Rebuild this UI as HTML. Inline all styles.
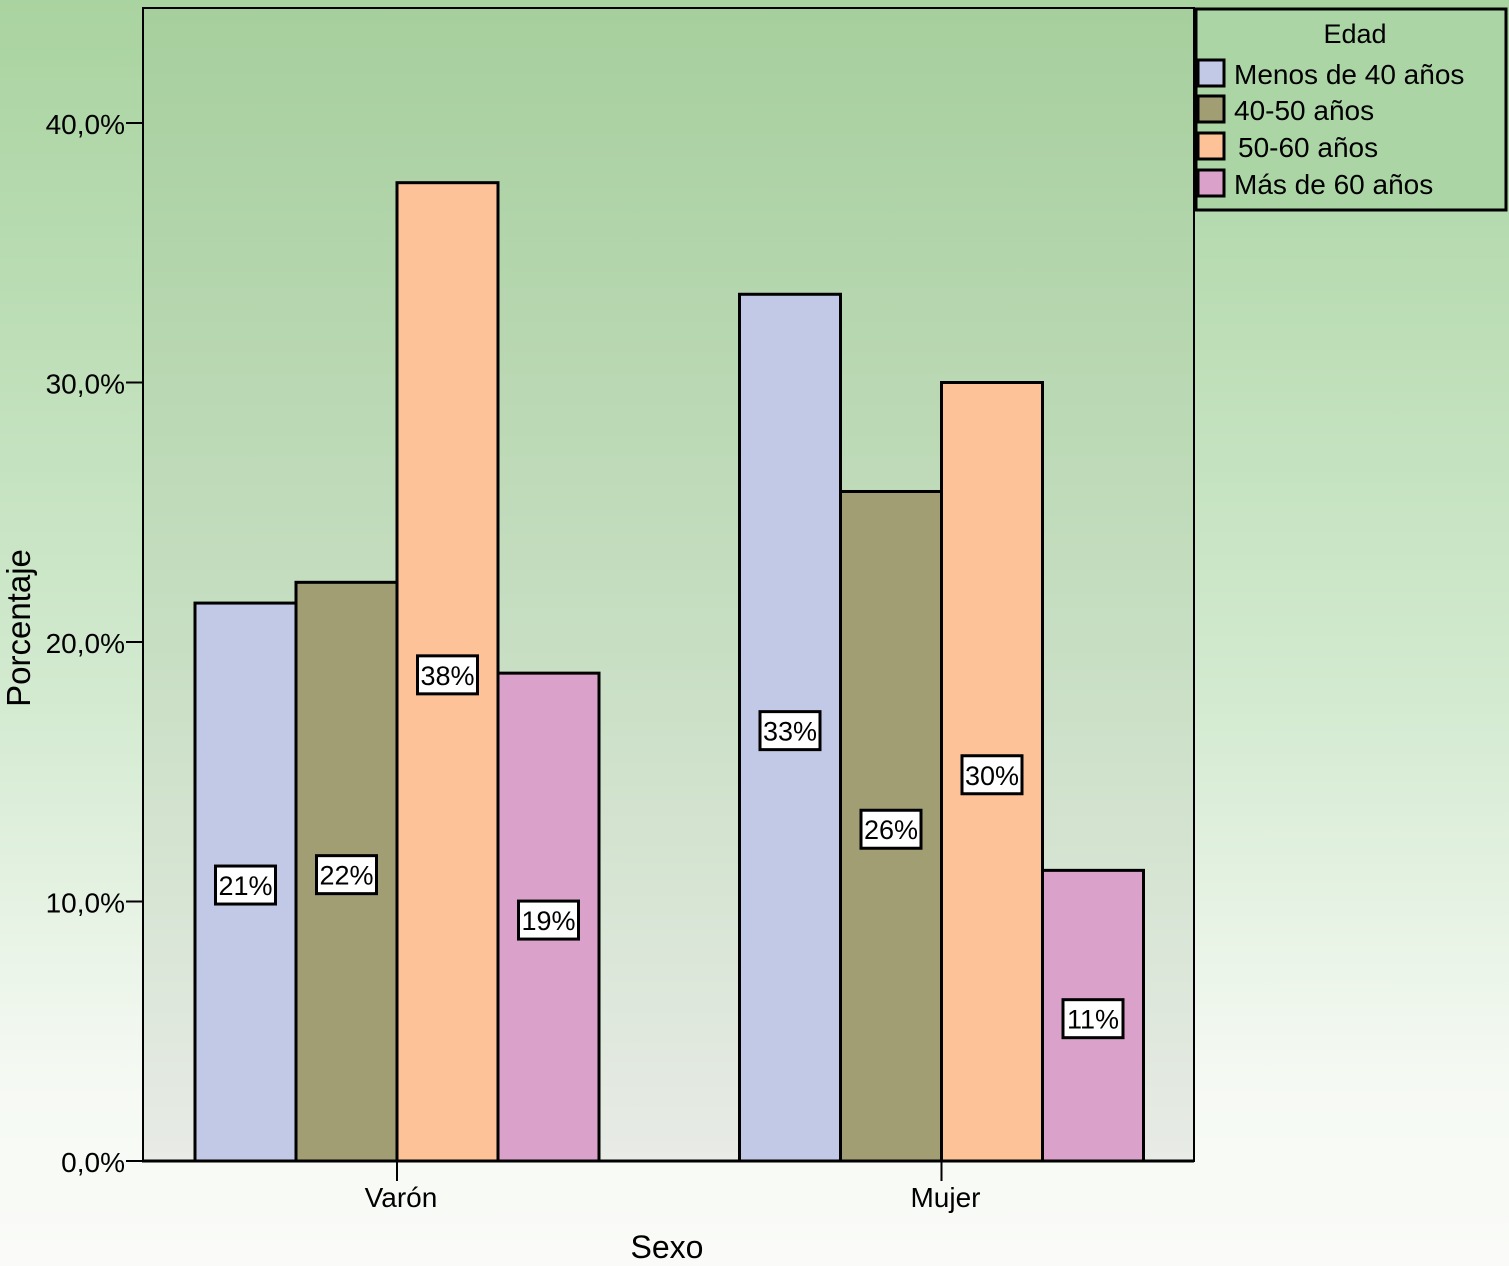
<!DOCTYPE html>
<html><head><meta charset="utf-8"><style>
html,body{margin:0;padding:0;width:1509px;height:1266px;overflow:hidden}
svg{display:block;font-family:"Liberation Sans",sans-serif}
</style></head><body>
<svg id="chart" width="1509" height="1266" viewBox="0 0 1509 1266">
<defs>
<linearGradient id="bg" x1="0" y1="0" x2="0" y2="1">
<stop offset="0" stop-color="#a9d3a0"/><stop offset="0.55" stop-color="#d3ead0"/><stop offset="0.85" stop-color="#f5f9f3"/><stop offset="1" stop-color="#fafbf8"/>
</linearGradient>
<linearGradient id="pg" x1="0" y1="0" x2="0" y2="1">
<stop offset="0" stop-color="#a6cf9d"/><stop offset="0.5" stop-color="#c4ddbf"/><stop offset="1" stop-color="#e8ebe6"/>
</linearGradient>
</defs>
<rect x="0" y="0" width="1509" height="1266" fill="url(#bg)"/>
<rect x="143" y="8" width="1051" height="1153" fill="url(#pg)" stroke="#000" stroke-width="2"/>
<g id="yaxis"></g>
<g id="bars"></g>
<g id="xaxis"></g>
<text x="30" y="628" font-size="33" text-anchor="middle" transform="rotate(-90 30 628)">Porcentaje</text>
<text x="667" y="1258" font-size="32" text-anchor="middle">Sexo</text>
<g>
<rect x="1196" y="9" width="310" height="201" fill="#acd5a6" stroke="#000" stroke-width="3"/>
<text x="1355" y="43" font-size="27" text-anchor="middle">Edad</text>
<g id="legend-items"></g>
</g>
</svg>
<script>
const categories = ["Varón", "Mujer"];
const seriesNames = ["Menos de 40 años", "40-50 años", "50-60 años", "Más de 60 años"];
const seriesColors = ["#c2c9e6", "#a29e73", "#fdc298", "#daa2cb"];
const varonValues = [21.5, 22.3, 37.7, 18.8];
const mujerValues = [33.4, 25.8, 30.0, 11.2];
const valueLabels = [["21%", "22%", "38%", "19%"], ["33%", "26%", "30%", "11%"]];
const yTicks = [0, 10, 20, 30, 40];
const yTickLabels = ["0,0%", "10,0%", "20,0%", "30,0%", "40,0%"];

const NS = "http://www.w3.org/2000/svg";
const y0 = 1161, pxPer = 25.95;
function yScale(v){ return y0 - v * pxPer; }
const groupCenters = [397, 941.5];
const barW = 101;
function xBar(ci, si){ return groupCenters[ci] - 2 * barW + si * barW; }
function mk(tag, attrs, parent){ const e = document.createElementNS(NS, tag); for (const k in attrs) e.setAttribute(k, attrs[k]); parent.appendChild(e); return e; }

const ya = document.getElementById("yaxis");
yTicks.forEach((t, i) => {
  const y = yScale(t);
  const ln = mk("line", {x1:126, x2:143, y1:y, y2:y, stroke:"#000", "stroke-width":2}, ya);
  
  
  const tx = mk("text", {x:125, y:y + 11, "font-size":28, "text-anchor":"end"}, ya);
  tx.textContent = yTickLabels[i];
  
  
});

const bg = document.getElementById("bars");
const allValues = [varonValues, mujerValues];
allValues.forEach((vals, ci) => {
  vals.forEach((v, si) => {
    const x = xBar(ci, si), top = yScale(v);
    const r = mk("rect", {x:x, y:top, width:barW, height:y0 - top, fill:seriesColors[si], stroke:"#000", "stroke-width":3}, bg);
    
    
  });
});
allValues.forEach((vals, ci) => {
  vals.forEach((v, si) => {
    const cx = xBar(ci, si) + barW / 2, cy = (yScale(v) + y0) / 2 + 3;
    const b = mk("rect", {x:cx - 30, y:cy - 19, width:60, height:38, fill:"#fff", stroke:"#000", "stroke-width":3}, bg);
    
    
    const t = mk("text", {x:cx, y:cy + 10, "font-size":27, "text-anchor":"middle"}, bg);
    t.textContent = valueLabels[ci][si];
    
    
  });
});

const xa = document.getElementById("xaxis");
mk("line", {x1:142, x2:1194, y1:y0, y2:y0, stroke:"#000", "stroke-width":3}, xa);
categories.forEach((c, ci) => {
  const x = groupCenters[ci];
  const ln = mk("line", {x1:x, x2:x, y1:y0, y2:y0 + 20, stroke:"#000", "stroke-width":2}, xa);
  
  
  const t = mk("text", {x:x + 4, y:1207, "font-size":28, "text-anchor":"middle"}, xa);
  t.textContent = c;
  
  
});

const lg = document.getElementById("legend-items");
const legY = [74, 110, 147, 184];
seriesNames.forEach((n, i) => {
  const s = mk("rect", {x:1198, y:legY[i] - 14, width:26, height:26, fill:seriesColors[i], stroke:"#000", "stroke-width":3}, lg);
  
  
  const t = mk("text", {x:1234 + (i == 2 ? 4 : 0), y:legY[i] + 10, "font-size":28}, lg);
  t.textContent = n;
  
  
});
</script>
</body></html>
